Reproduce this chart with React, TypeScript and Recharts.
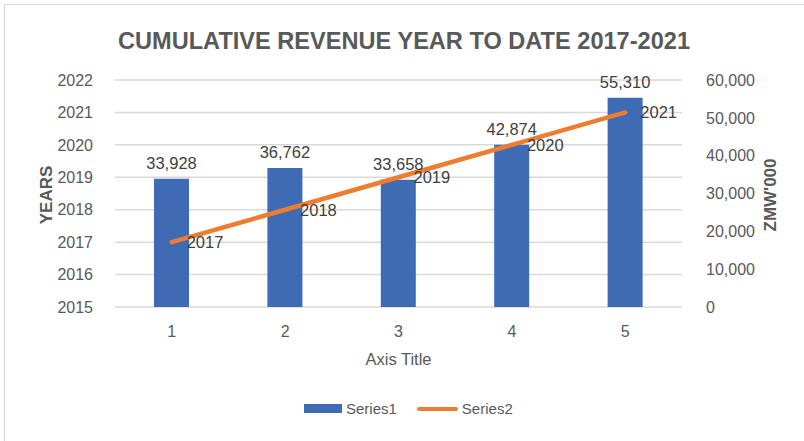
import React from "react";
import {
  ComposedChart, Bar, Line, XAxis, YAxis, CartesianGrid, LabelList,
} from "recharts";

const categories = ["1", "2", "3", "4", "5"];
const revenue = [33928, 36762, 33658, 42874, 55310]; // Series1, ZMW'000
const years = [2017, 2018, 2019, 2020, 2021]; // Series2
const yearTicks = [2015, 2016, 2017, 2018, 2019, 2020, 2021, 2022];
const revenueTicks = [0, 10000, 20000, 30000, 40000, 50000, 60000];

const BLUE = "#3e6bb4";
const ORANGE = "#ed7d31";
const TEXT = "#595959";
const FONT = "'Liberation Sans', Arial, sans-serif";

const data = categories.map((c, i) => ({ cat: c, s1: revenue[i], s2: years[i] }));

const fmt = (v: number) => v.toLocaleString("en-US");

const SideTitle = ({ text, x, y }: { text: string; x: number; y: number }) => (
  <text
    x={x}
    y={y}
    transform={`rotate(-90 ${x} ${y})`}
    textAnchor="middle"
    dominantBaseline="central"
    fill={TEXT}
    fontSize={17}
    fontWeight="bold"
    fontFamily={FONT}
  >
    {text}
  </text>
);

export default function App() {
  return (
    <div style={{ position: "absolute", left: 0, top: 0, width: 804, height: 441, background: "#fff", fontFamily: FONT, overflow: "hidden" }}>
      <div style={{ position: "absolute", left: 4, top: 4, width: 900, height: 500, border: "1px solid #d9d9d9" }} />
      <svg style={{ position: "absolute", left: 0, top: 0 }} width={804} height={70}>
        <text x={404} y={49} textAnchor="middle" fill={TEXT} fontSize={23} fontWeight="bold" fontFamily={FONT}
          textLength={572} lengthAdjust="spacingAndGlyphs">
          CUMULATIVE REVENUE YEAR TO DATE 2017-2021
        </text>
      </svg>
      <div style={{ position: "absolute", left: 0, top: 0 }}>
        <ComposedChart
          width={804}
          height={441}
          data={data}
          margin={{ top: 80, right: 0, bottom: 74, left: 0 }}
        >
          <CartesianGrid yAxisId="left" vertical={false} stroke="#d9d9d9" strokeWidth={1.5} />
          <XAxis
            dataKey="cat"
            height={60}
            tickLine={false}
            axisLine={false}
            tick={{ fill: TEXT, fontSize: 16, fontFamily: FONT }}
            tickMargin={13}
            label={{ value: "Axis Title", position: "insideTop", offset: 46, fill: TEXT, fontSize: 16.5, fontFamily: FONT }}
          />
          <YAxis
            yAxisId="left"
            orientation="left"
            width={115}
            domain={[2015, 2022]}
            ticks={yearTicks}
            interval={0}
            tickLine={false}
            axisLine={false}
            tickMargin={16}
            tick={{ fill: TEXT, fontSize: 16, fontFamily: FONT }}
            label={{ content: () => <SideTitle text="YEARS" x={46} y={195} /> }}
          />
          <YAxis
            yAxisId="right"
            orientation="right"
            width={122}
            domain={[0, 60000]}
            ticks={revenueTicks}
            interval={0}
            tickLine={false}
            axisLine={false}
            tickMargin={18}
            tickFormatter={fmt}
            tick={{ fill: TEXT, fontSize: 16, fontFamily: FONT }}
            label={{ content: () => <SideTitle text="ZMW'000" x={770} y={195} /> }}
          />
          <Bar yAxisId="right" dataKey="s1" fill={BLUE} barSize={35} isAnimationActive={false}>
            <LabelList dataKey="s1" position="top" offset={10} formatter={(v: any) => fmt(Number(v))}
              fill="#404040" fontSize={16.5} fontFamily={FONT} />
          </Bar>
          <Line yAxisId="left" dataKey="s2" stroke={ORANGE} strokeWidth={4.5} strokeLinecap="round"
            dot={false} activeDot={false} type="linear" isAnimationActive={false}>
            <LabelList dataKey="s2" position="right" offset={15} fill="#404040" fontSize={16.5} fontFamily={FONT} />
          </Line>
        </ComposedChart>
      </div>
      <div style={{ position: "absolute", left: 304, top: 400, display: "flex", alignItems: "center", fontSize: 15, color: TEXT }}>
        <span style={{ display: "inline-block", width: 38, height: 9, background: BLUE, marginRight: 4 }} />
        <span>Series1</span>
        <span style={{ display: "inline-block", width: 41, height: 4, background: ORANGE, borderRadius: 2, marginLeft: 20, marginRight: 4 }} />
        <span>Series2</span>
      </div>
    </div>
  );
}
